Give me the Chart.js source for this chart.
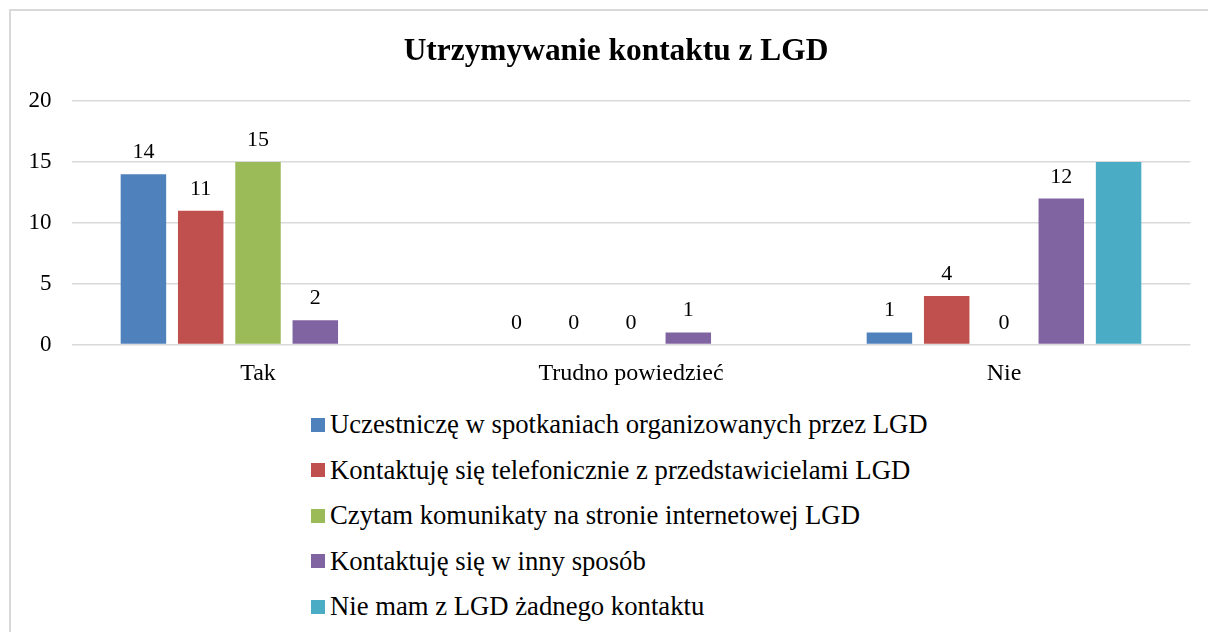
<!DOCTYPE html>
<html lang="pl">
<head>
<meta charset="utf-8">
<title>Utrzymywanie kontaktu z LGD</title>
<script src="https://cdn.jsdelivr.net/npm/chart.js@4/dist/chart.umd.min.js"></script>
<style>
  html, body { margin: 0; padding: 0; background: #fff; overflow: hidden; }
  body { width: 1208px; height: 632px; position: relative; font-family: 'Liberation Serif', 'Times New Roman', serif; }
  .frame { position: absolute; left: 9px; top: 9px; width: 1260px; height: 700px; border: 2px solid #d9d9d9; }
  .chart-box { position: absolute; left: 0; top: 0; width: 1208px; height: 402px; }
  #legend { position: absolute; left: 311px; top: 402px; margin: 0; padding: 0; list-style: none; }
  #legend li { display: flex; align-items: center; height: 45.5px; font-size: 26.7px; color: #000; white-space: nowrap; }
  #legend .swatch { width: 14px; height: 14px; margin-right: 5px; flex: none; }
</style>
</head>
<body>
<div class="frame"></div>
<div class="chart-box"><canvas id="chart"></canvas></div>
<ul id="legend"></ul>
<script>
  const FONT = "'Liberation Serif', 'Times New Roman', serif";

  const categories = ['Tak', 'Trudno powiedzieć', 'Nie'];
  const seriesNames = [
    'Uczestniczę w spotkaniach organizowanych przez LGD',
    'Kontaktuję się telefonicznie z przedstawicielami LGD',
    'Czytam komunikaty na stronie internetowej LGD',
    'Kontaktuję się w inny sposób',
    'Nie mam z LGD żadnego kontaktu',
  ];
  const spotkania = [14, 0, 1];
  const telefon = [11, 0, 4];
  const strona = [15, 0, 0];
  const innySposob = [2, 1, 12];
  const brakKontaktu = [0, 0, 15];
  const seriesColors = ['#4F81BD', '#C0504D', '#9BBB59', '#8064A2', '#4BACC6'];
  // the last series is drawn without value labels
  const showValues = [true, true, true, true, false];
  const yTicks = [0, 5, 10, 15, 20];

  const seriesValues = [spotkania, telefon, strona, innySposob, brakKontaktu];

  const valueLabels = {
    id: 'valueLabels',
    afterDatasetsDraw(chart) {
      const ctx = chart.ctx;
      ctx.save();
      ctx.font = '22px ' + FONT;
      ctx.fillStyle = '#000';
      ctx.textAlign = 'center';
      ctx.textBaseline = 'alphabetic';
      chart.data.datasets.forEach((ds, i) => {
        if (!showValues[i]) return;
        const meta = chart.getDatasetMeta(i);
        meta.data.forEach((bar, j) => {
          ctx.fillText(String(ds.data[j]), bar.x, bar.y - 16);
        });
      });
      ctx.restore();
    },
  };

  const chart = new Chart(document.getElementById('chart'), {
    type: 'bar',
    data: {
      labels: categories,
      datasets: seriesNames.map((name, i) => ({
        label: name,
        data: seriesValues[i],
        backgroundColor: seriesColors[i],
        categoryPercentage: 0.768,
        barPercentage: 0.794,
      })),
    },
    options: {
      responsive: true,
      maintainAspectRatio: false,
      animation: false,
      layout: { padding: { left: 24, right: 0, top: 0, bottom: 0 } },
      plugins: {
        legend: { display: false },
        tooltip: { enabled: false },
        title: {
          display: true,
          text: 'Utrzymywanie kontaktu z LGD',
          color: '#000',
          font: { family: FONT, size: 31.4, weight: 'bold' },
          padding: { top: 32.6, bottom: 30.9 },
        },
      },
      scales: {
        x: {
          grid: { display: false, drawTicks: false },
          border: { display: false },
          ticks: { color: '#000', font: { family: FONT, size: 24 }, padding: 14.3 },
        },
        y: {
          min: 0,
          max: 20,
          afterBuildTicks(scale) { scale.ticks = yTicks.map(v => ({ value: v })); },
          afterFit(scale) { scale.width = 47.5; },
          grid: { color: '#d9d9d9', lineWidth: 1.5, drawTicks: false },
          border: { display: false },
          ticks: { color: '#000', font: { family: FONT, size: 23 }, padding: 20 },
        },
        // empty strip on the right so the gridlines stop short of the edge
        yRight: {
          position: 'right',
          grid: { display: false, drawTicks: false },
          border: { display: false },
          ticks: { display: false },
          afterFit(scale) { scale.width = 17.5; },
        },
      },
    },
    plugins: [valueLabels],
  });

  // vertical legend list under the chart, built from the chart's own legend items
  const legendEl = document.getElementById('legend');
  legendEl.innerHTML = Chart.defaults.plugins.legend.labels.generateLabels(chart)
    .map(item => `<li><span class="swatch" style="background:${item.fillStyle}"></span>${item.text}</li>`)
    .join('');
</script>
</body>
</html>
